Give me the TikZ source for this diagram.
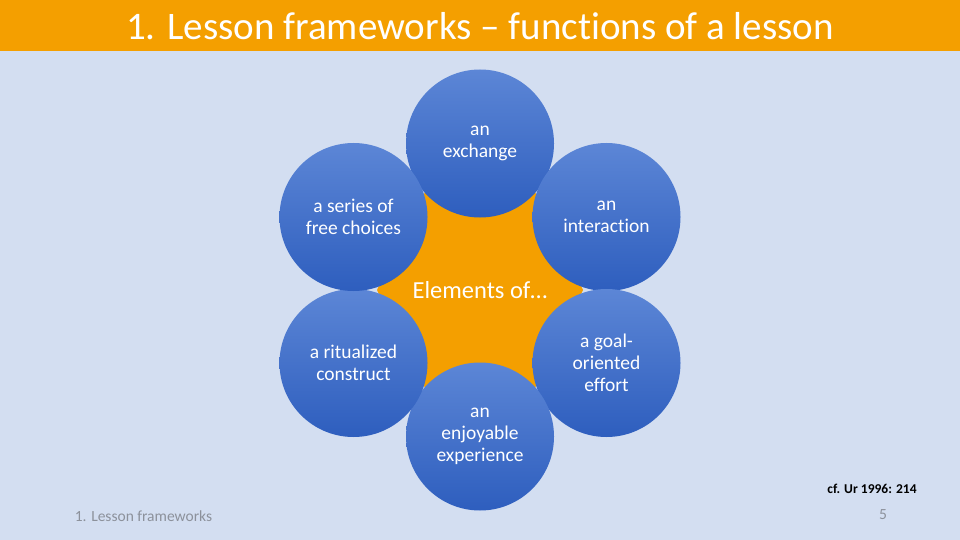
\documentclass[tikz,border=0pt]{standalone}
\usepackage{fontspec}
\setmainfont{Carlito}[Ligatures=NoCommon]
\usetikzlibrary{positioning, calc}
\definecolor{slidebg}{RGB}{211,222,241}
\definecolor{lessonorange}{RGB}{244,159,0}
\definecolor{bubbletop}{RGB}{92,134,214}
\definecolor{bubblebottom}{RGB}{46,94,190}
\definecolor{footgray}{RGB}{140,145,155}

\begin{document}
\begin{tikzpicture}[x=1pt, y=-1pt,
  bubble/.style={circle, minimum size=148pt, inner sep=0pt, top color=bubbletop, bottom color=bubblebottom, draw=none, text=white, align=center, font=\fontsize{19.5}{22}\selectfont},
  footnote/.style={text=footgray, font=\fontsize{15.5}{18}\selectfont},
]
  % page, banner
  \fill[slidebg] (0,0) rectangle (960,540);
  \useasboundingbox (0,0) rectangle (960,540);
  \fill[lessonorange] (0,0) rectangle (960,51);
  \node[text=white, font=\fontsize{39}{44}\selectfont] (title) at (480,26) {1. Lesson frameworks -- functions of a lesson};

  % centre shape
  \coordinate (centre) at (480,290);
  \fill[lessonorange] (377,290) -- (425,192) -- (535,192) -- (583,290) -- (535,388) -- (425,388) -- cycle;
  \node[text=white, font=\fontsize{24.5}{28}\selectfont] (elements) at (centre) {Elements of\ldots};

  % the six functions
  \node[bubble] (exchange) at ($(centre)+(0,-146.5)$) {an\\exchange};
  \node[bubble] (interaction) at ($(centre)+(126.5,-73)$) {an\\interaction};
  \node[bubble] (goal) at ($(centre)+(126.5,73)$) {a goal-\\oriented\\effort};
  \node[bubble] (enjoyable) at ($(centre)+(0,146.5)$) {an\\enjoyable\\experience};
  \node[bubble] (ritual) at ($(centre)+(-126.5,73)$) {a ritualized\\construct};
  \node[bubble] (choices) at ($(centre)+(-126.5,-73)$) {a series of\\free choices};

  % footer
  \node[font=\bfseries\fontsize{13.5}{16}\selectfont] (source) at (872,489) {cf. Ur 1996: 214};
  \node[footnote] (section) at (143.5,516) {1. Lesson frameworks};
  \node[footnote] (page) at (883,515) {5};
\end{tikzpicture}
\end{document}
